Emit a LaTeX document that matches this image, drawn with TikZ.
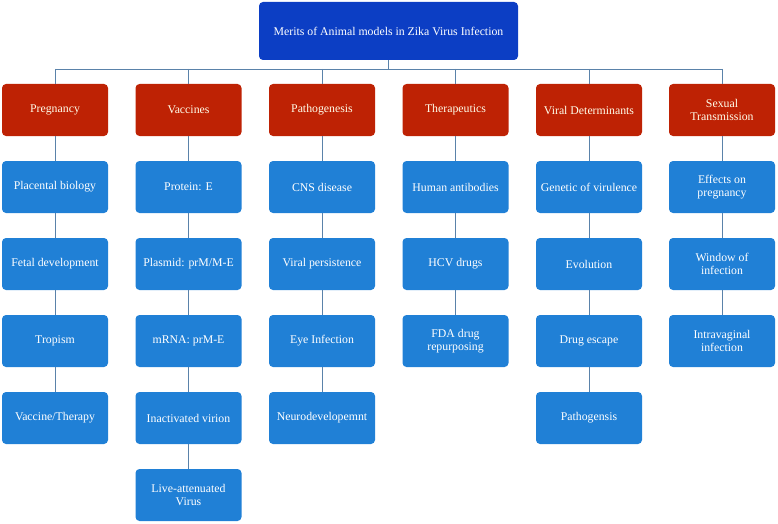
\documentclass[tikz,border=0pt]{standalone}
\usepackage{fontspec}
\setmainfont{Liberation Serif}
\definecolor{topblue}{RGB}{12,62,196}
\definecolor{catred}{RGB}{190,34,4}
\definecolor{itemblue}{RGB}{32,128,214}
\definecolor{linecol}{RGB}{90,130,170}
\begin{document}
\begin{tikzpicture}[x=1pt,y=-1pt,
  base/.style={rounded corners=4pt, text=white, align=center, inner sep=1pt,
    font=\fontsize{11.8}{13}\selectfont},
  topbox/.style={base, fill=topblue, minimum width=259pt, minimum height=58pt},
  catbox/.style={base, fill=catred, minimum width=106pt, minimum height=52pt, text=white!92!yellow},
  itembox/.style={base, fill=itemblue, minimum width=106pt, minimum height=52pt},
  conn/.style={draw=linecol, line width=0.9pt}]
\useasboundingbox (0,0) rectangle (778,524);
\node[topbox] (top) at (388.5,31) {Merits of Animal models in Zika Virus Infection};
\coordinate (bus) at (388.5,69);
% categories
\node[catbox] (c1) at (55,110) {Pregnancy};
\node[catbox] (c2) at (188.5,110) {Vaccines};
\node[catbox] (c3) at (322,110) {Pathogenesis};
\node[catbox] (c4) at (455.5,110) {Therapeutics};
\node[catbox] (c5) at (589,110) {Viral Determinants};
\node[catbox] (c6) at (722,110) {Sexual\\Transmission};
% column 1
\node[itembox] (a1) at (55,187) {Placental biology};
\node[itembox] (a2) at (55,264) {Fetal development};
\node[itembox] (a3) at (55,341) {Tropism};
\node[itembox] (a4) at (55,418) {Vaccine/Therapy};
% column 2
\node[itembox] (b1) at (188.5,187) {Protein: E};
\node[itembox] (b2) at (188.5,264) {Plasmid: prM/M-E};
\node[itembox] (b3) at (188.5,341) {mRNA: prM-E};
\node[itembox] (b4) at (188.5,418) {Inactivated virion};
\node[itembox] (b5) at (188.5,495) {Live-attenuated\\Virus};
% column 3
\node[itembox] (p1) at (322,187) {CNS disease};
\node[itembox] (p2) at (322,264) {Viral persistence};
\node[itembox] (p3) at (322,341) {Eye Infection};
\node[itembox] (p4) at (322,418) {Neurodevelopemnt};
% column 4
\node[itembox] (t1) at (455.5,187) {Human antibodies};
\node[itembox] (t2) at (455.5,264) {HCV drugs};
\node[itembox] (t3) at (455.5,341) {FDA drug\\repurposing};
% column 5
\node[itembox] (v1) at (589,187) {Genetic of virulence};
\node[itembox] (v2) at (589,264) {Evolution};
\node[itembox] (v3) at (589,341) {Drug escape};
\node[itembox] (v4) at (589,418) {Pathogensis};
% column 6
\node[itembox] (s1) at (722,187) {Effects on\\pregnancy};
\node[itembox] (s2) at (722,264) {Window of\\infection};
\node[itembox] (s3) at (722,341) {Intravaginal\\infection};
% connectors
\draw[conn] (top.south) -- (bus);
\draw[conn] (c1.north |- bus) -- (c6.north |- bus);
\foreach \c in {c1,c2,c3,c4,c5,c6} \draw[conn] (\c.north |- bus) -- (\c.north);
\foreach \u/\v in {c1/a1,a1/a2,a2/a3,a3/a4,
                   c2/b1,b1/b2,b2/b3,b3/b4,b4/b5,
                   c3/p1,p1/p2,p2/p3,p3/p4,
                   c4/t1,t1/t2,t2/t3,
                   c5/v1,v1/v2,v2/v3,v3/v4,
                   c6/s1,s1/s2,s2/s3}
  \draw[conn] (\u.south) -- (\v.north);
\end{tikzpicture}
\end{document}
